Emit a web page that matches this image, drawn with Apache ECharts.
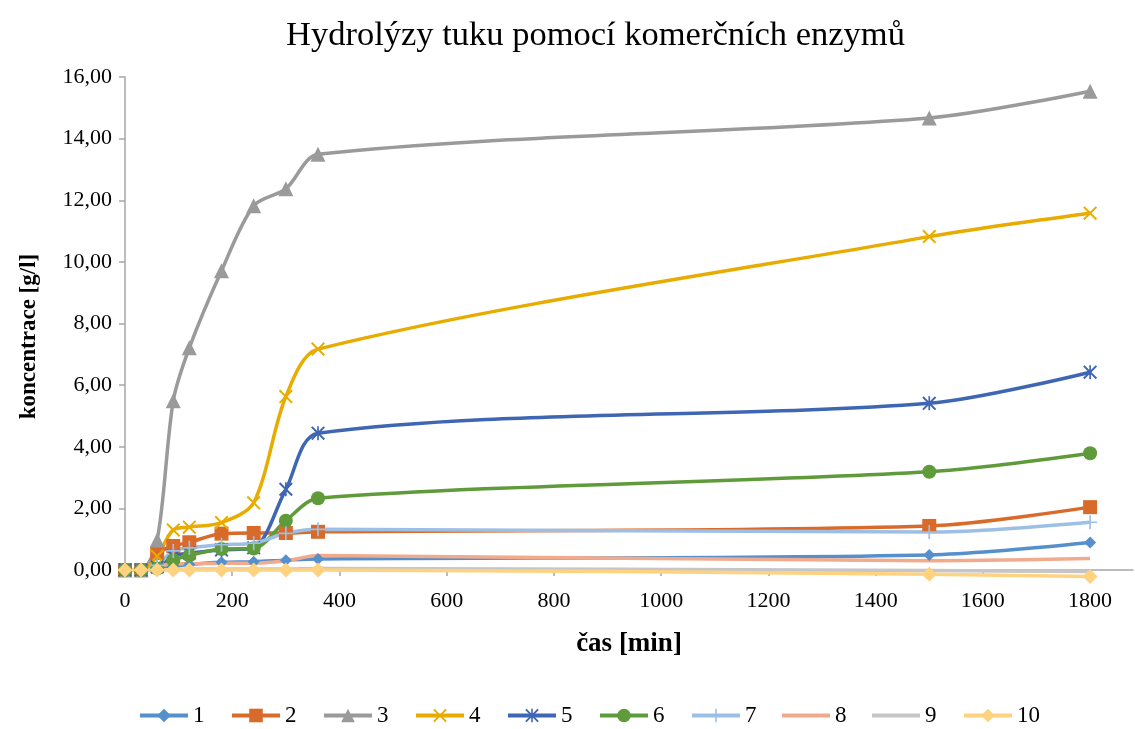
<!DOCTYPE html>
<html>
<head>
<meta charset="utf-8">
<script src="https://cdn.jsdelivr.net/npm/echarts@6/dist/echarts.min.js"></script>
<style>
  html, body { margin: 0; padding: 0; background: #fff; }
  #chart { width: 1135px; height: 729px; }
</style>
</head>
<body>
<div id="chart"></div>
<script>
// sampling times [min]
const casMin = [0, 30, 60, 90, 120, 180, 240, 300, 360, 1500, 1800];

// concentration [g/l] per enzyme
const s1  = [0, 0, 0.05, 0.12, 0.18, 0.25, 0.27, 0.32, 0.36, 0.49, 0.89];
const s2  = [0, 0, 0.55, 0.78, 0.90, 1.18, 1.20, 1.20, 1.24, 1.43, 2.04];
const s3  = [0, 0, 0.97, 5.49, 7.21, 9.71, 11.82, 12.37, 13.49, 14.67, 15.54];
const s4  = [0, 0, 0.45, 1.30, 1.39, 1.54, 2.18, 5.63, 7.17, 10.82, 11.58];
const s5  = [0, 0, 0.10, 0.45, 0.55, 0.65, 0.72, 2.62, 4.44, 5.41, 6.42];
const s6  = [0, 0, 0.05, 0.32, 0.47, 0.68, 0.70, 1.60, 2.33, 3.19, 3.79];
const s7  = [0, 0, 0.15, 0.62, 0.72, 0.82, 0.87, 1.19, 1.32, 1.23, 1.55];
const s8  = [0, 0, 0.10, 0.20, 0.20, 0.22, 0.22, 0.30, 0.47, 0.30, 0.37];
const s9  = [0, 0, 0, 0.02, 0.03, 0.03, 0.03, 0.03, 0.05, -0.02, -0.05];
const s10 = [0, 0, 0, 0, 0, 0, 0, 0, 0, -0.14, -0.21];

const seriesNames = ['1', '2', '3', '4', '5', '6', '7', '8', '9', '10'];
const seriesValues = [s1, s2, s3, s4, s5, s6, s7, s8, s9, s10];

const yTicks = [0, 2, 4, 6, 8, 10, 12, 14, 16];
const xTicks = [0, 200, 400, 600, 800, 1000, 1200, 1400, 1600, 1800];

const colors = ['#5590CC', '#D96B2A', '#9A9A9A', '#E8AC00', '#3F66B3',
                '#5F9B3A', '#9DBFE6', '#F2AA8C', '#C6C6C6', '#FFD27F'];

// marker shapes
const crossPath = 'path://M0,1L1,0L5,4L9,0L10,1L6,5L10,9L9,10L5,6L1,10L0,9L4,5Z';
const plusPath = 'path://M4.4,0H5.6V4.4H10V5.6H5.6V10H4.4V5.6H0V4.4H4.4Z';
const starPath = 'path://M0,1L1,0L5,4L9,0L10,1L6,5L10,9L9,10L5,6L1,10L0,9L4,5Z' +
                 'M4.4,0H5.6V10H4.4Z';
// plain line icon for series drawn without markers
const lineIcon = 'path://M0,0H48V4H0Z';
const markers = [
  { symbol: 'diamond', size: 12 },
  { symbol: 'rect', size: 14 },
  { symbol: 'triangle', size: 15 },
  { symbol: crossPath, size: 14 },
  { symbol: starPath, size: 14 },
  { symbol: 'circle', size: 14 },
  { symbol: plusPath, size: 14 },
  { symbol: 'none', size: 0 },
  { symbol: 'none', size: 0 },
  { symbol: 'diamond', size: 15 }
];

const font = 'Liberation Serif, Times New Roman, serif';
const fmt = v => v.toFixed(2).replace('.', ',');

const series = seriesValues.map((vals, i) => ({
  name: seriesNames[i],
  type: 'line',
  smooth: 0.3,
  clip: false,
  data: casMin.map((x, k) => [x, vals[k]]),
  symbol: markers[i].symbol,
  symbolSize: markers[i].size,
  showSymbol: markers[i].symbol !== 'none',
  lineStyle: { color: colors[i], width: 3.5 },
  itemStyle: { color: colors[i] },
  emphasis: { disabled: true }
}));

const legendData = seriesNames.map((n, i) =>
  markers[i].symbol === 'none' ? { name: n, icon: lineIcon } : { name: n });

const chart = echarts.init(document.getElementById('chart'), null, { renderer: 'canvas' });
chart.setOption({
  animation: false,
  backgroundColor: '#fff',
  color: colors,
  title: {
    text: 'Hydrolýzy tuku pomocí komerčních enzymů',
    left: 281,
    top: 13,
    textStyle: { fontFamily: font, fontSize: 34.5, fontWeight: 'normal', color: '#000' }
  },
  legend: {
    data: legendData,
    left: 133,
    top: 699,
    itemWidth: 48,
    itemHeight: 17,
    itemGap: 25.5,
    symbolKeepAspect: true,
    lineStyle: { width: 4 },
    textStyle: { fontFamily: font, fontSize: 23, color: '#000' }
  },
  grid: { left: 125, right: 2, top: 77, bottom: 159 },
  xAxis: {
    type: 'value',
    min: 0,
    max: 1880,
    interval: 200,
    name: 'čas [min]',
    nameLocation: 'middle',
    nameGap: 61,
    nameTextStyle: { fontFamily: font, fontSize: 27, fontWeight: 'bold', color: '#000' },
    axisLine: { lineStyle: { color: '#A6A6A6', width: 1.5 } },
    axisTick: { show: true, length: 6, customValues: xTicks, lineStyle: { color: '#A6A6A6', width: 1.5 } },
    axisLabel: { customValues: xTicks, margin: 20, fontFamily: font, fontSize: 22, color: '#000', formatter: v => String(v) },
    splitLine: { show: false }
  },
  yAxis: {
    type: 'value',
    min: 0,
    max: 16,
    interval: 2,
    name: 'koncentrace [g/l]',
    nameLocation: 'middle',
    nameGap: 84,
    nameTextStyle: { fontFamily: font, fontSize: 23, fontWeight: 'bold', color: '#000', padding: [0, 26, 0, 0] },
    axisLine: { show: true, lineStyle: { color: '#A6A6A6', width: 1.5 } },
    axisTick: { show: true, length: 6, customValues: yTicks, lineStyle: { color: '#A6A6A6', width: 1.5 } },
    axisLabel: { customValues: yTicks, margin: 13, fontFamily: font, fontSize: 22, color: '#000', formatter: fmt },
    splitLine: { show: false }
  },
  series: series
});
</script>
</body>
</html>
